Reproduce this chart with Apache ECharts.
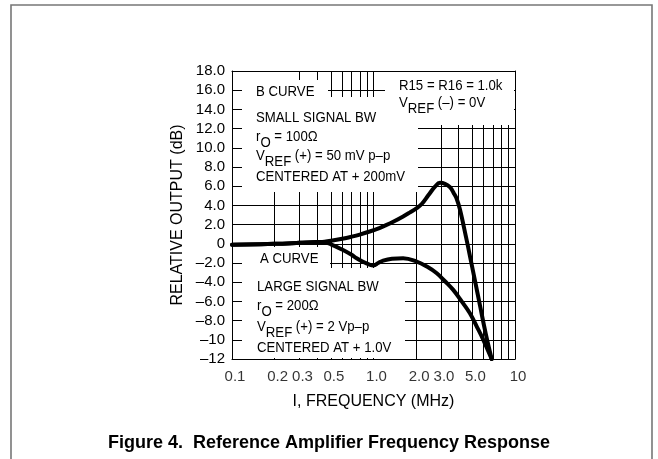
<!DOCTYPE html>
<html><head><meta charset="utf-8">
<script src="https://cdn.jsdelivr.net/npm/echarts/dist/echarts.min.js"></script>
<style>html,body{margin:0;padding:0;background:#fff}#c{width:658px;height:459px}</style>
</head><body><div id="c"></div>
<script>
// ---- data ----
const bCurveFreq = [0.1, 0.2, 0.3, 0.4, 0.45, 0.5, 0.6, 0.7, 0.8, 0.94, 1.1, 1.2, 1.4, 1.62, 1.8, 2.02, 2.2, 2.44, 2.72, 2.95, 3.2, 3.47, 3.7, 3.87, 4.08, 4.5, 4.8, 5.2, 5.66, 6.2, 6.84];
const bCurveDb   = [-0.1, 0.0, 0.1, 0.18, 0.22, 0.31, 0.52, 0.74, 0.96, 1.28, 1.64, 1.88, 2.35, 2.85, 3.25, 3.71, 4.17, 5.05, 5.95, 6.35, 6.25, 5.9, 5.25, 4.7, 3.6, 0.75, -1.25, -3.75, -6.45, -9.3, -12];
const aCurveFreq = [0.1, 0.2, 0.3, 0.4, 0.45, 0.5, 0.6, 0.7, 0.76, 0.85, 0.93, 1.0, 1.08, 1.17, 1.35, 1.62, 2.02, 2.4, 2.8, 3.2, 3.66, 4.2, 4.8, 5.4, 5.97, 6.84];
const aCurveDb   = [-0.1, 0.0, 0.1, 0.18, 0.15, -0.05, -0.6, -1.15, -1.5, -1.9, -2.15, -2.25, -2.0, -1.75, -1.55, -1.5, -1.85, -2.4, -3.07, -3.9, -4.8, -6.0, -7.24, -8.7, -10.0, -12];
const xLabelValues = [0.1, 0.2, 0.3, 0.5, 1, 2, 3, 5, 10];
const xLabelTexts  = ['0.1', '0.2', '0.3', '0.5', '1.0', '2.0', '3.0', '5.0', '10'];
const yTickValues  = [-12, -10, -8, -6, -4, -2, 0, 2, 4, 6, 8, 10, 12, 14, 16, 18];
const yTickTexts   = ['–12', '–10', '–8.0', '–6.0', '–4.0', '–2.0', '0', '2.0', '4.0', '6.0', '8.0', '10.0', '12.0', '14.0', '16.0', '18.0'];
const xGridValues  = [0.2, 0.3, 0.4, 0.5, 0.6, 0.7, 0.8, 0.9, 1, 2, 3, 4, 5, 6, 7, 8, 9];
const yGridValues  = [-10, -8, -6, -4, -2, 0, 2, 4, 6, 8, 10, 12, 14, 16];
const noteTexts = [
  '{n|B CURVE}',
  '{n|SMALL SIGNAL BW}',
  '{n|r}{s|O}{n| = 100Ω}',
  '{n|V}{s|REF}{n| (+) = 50 mV p–p}',
  '{n|CENTERED AT + 200mV}',
  '{n|R15 = R16 = 1.0k}',
  '{n|V}{s|REF}{n| (–) = 0V}',
  '{n|A CURVE}',
  '{n|LARGE SIGNAL BW}',
  '{n|r}{s|O}{n| = 200Ω}',
  '{n|V}{s|REF}{n| (+) = 2 Vp–p}',
  '{n|CENTERED AT + 1.0V}'
];
// ---- layout (pixels) ----
const notePos = [[256,92],[256,118],[256,137],[256,156],[256,177],[399,86],[399,103],[260,259],[257,287],[257,306],[257,327],[257,348]];
const maskRects = [[242,72,48,35],[290,80,38,27],[242,97,176,95],[385,72,129,53],[242,247,88,23],[242,268,163,90]];

const FONT = '"Liberation Sans", Arial, Helvetica, sans-serif';
const zip = (xs, ys) => xs.map((x, i) => [x, ys[i]]);

const graphics = [
  {type:'rect', z:0, shape:{x:11, y:5, width:641, height:480}, style:{fill:'none', stroke:'#777', lineWidth:1.6}}
];
maskRects.forEach(r => graphics.push({type:'rect', z:3, silent:true, shape:{x:r[0], y:r[1], width:r[2], height:r[3]}, style:{fill:'#fff', stroke:null}}));
noteTexts.forEach((t, i) => graphics.push({
  type:'text', z:7, silent:true, x: notePos[i][0], y: notePos[i][1] - 8, scaleX: 0.88,
  style:{text:t, verticalAlign:'top', align:'left', fill:'#000',
    rich:{
      n:{fontSize:15, fontFamily:FONT, color:'#000', lineHeight:16, verticalAlign:'top'},
      s:{fontSize:15, fontFamily:FONT, color:'#000', lineHeight:21, verticalAlign:'bottom'}
    }}
}));

const chart = echarts.init(document.getElementById('c'), null, {renderer:'canvas'});
chart.setOption({
  animation:false,
  backgroundColor:'#fff',
  title:{text:'Figure 4.  Reference Amplifier Frequency Response', left:'center', top:429,
    textStyle:{fontSize:18, fontWeight:'bold', color:'#000', fontFamily:FONT}},
  grid:{left:232, right:143, top:71, bottom:100, containLabel:false},
  xAxis:[
    {type:'log', logBase:10, min:0.1, max:10, position:'bottom',
      name:'I, FREQUENCY (MHz)', nameLocation:'middle', nameGap:35,
      nameTextStyle:{fontSize:16, color:'#000', fontFamily:FONT},
      axisLine:{show:true, onZero:false, lineStyle:{color:'#000', width:1}},
      axisTick:{show:false}, axisLabel:{show:false}, splitLine:{show:false}, minorTick:{show:false}, minorSplitLine:{show:false}, z:10},
    {type:'log', logBase:10, min:0.1, max:10, position:'top',
      axisLine:{show:true, onZero:false, lineStyle:{color:'#000', width:1}},
      axisTick:{show:false}, axisLabel:{show:false}, splitLine:{show:false}, z:10}
  ],
  yAxis:[
    {type:'value', min:-12, max:18, interval:2, position:'left',
      name:'RELATIVE OUTPUT (dB)', nameLocation:'middle', nameGap:46,
      nameTextStyle:{fontSize:16, color:'#000', fontFamily:FONT},
      axisLine:{show:true, onZero:false, lineStyle:{color:'#000', width:1}},
      axisTick:{show:true, inside:true, length:10, lineStyle:{color:'#000', width:1}},
      axisLabel:{show:true, margin:7, fontSize:15, color:'#000', fontFamily:FONT,
        formatter: v => { const i = yTickValues.indexOf(v); return i >= 0 ? yTickTexts[i] : ''; }},
      splitLine:{show:false}, z:10},
    {type:'value', min:-12, max:18, interval:2, position:'right',
      axisLine:{show:true, onZero:false, lineStyle:{color:'#000', width:1}},
      axisTick:{show:false}, axisLabel:{show:false}, splitLine:{show:false}, z:10}
  ],
  series:[
    {type:'line', name:'grid', silent:true, z:1, data:[[1,0]], showSymbol:false, lineStyle:{opacity:0},
      markLine:{silent:true, z:1, symbol:['none','none'], label:{show:false}, animation:false,
        lineStyle:{color:'#000', width:1, type:'solid', opacity:1},
        emphasis:{disabled:true},
        data:[...xGridValues.map(v => ({xAxis:v})), ...yGridValues.map(v => ({yAxis:v}))]}},
    {type:'line', name:'B CURVE', z:5, data:zip(bCurveFreq, bCurveDb), smooth:0.4,
      showSymbol:false, symbol:'none', lineStyle:{color:'#000', width:4, cap:'round', join:'round'}, clip:false},
    {type:'line', name:'A CURVE', z:5, data:zip(aCurveFreq, aCurveDb), smooth:0.4,
      showSymbol:false, symbol:'none', lineStyle:{color:'#000', width:4, cap:'round', join:'round'}, clip:false},
    {type:'scatter', name:'xlabels', z:8, silent:true, clip:false, symbolSize:1,
      itemStyle:{color:'rgba(0,0,0,0)'},
      data: xLabelValues.map(v => [v, -12]),
      label:{show:true, position:'bottom', distance:10, offset:[3,0], fontSize:15, color:'#000', fontFamily:FONT,
        formatter: p => xLabelTexts[p.dataIndex]}}
  ],
  graphic: graphics
});
</script>
</body></html>
